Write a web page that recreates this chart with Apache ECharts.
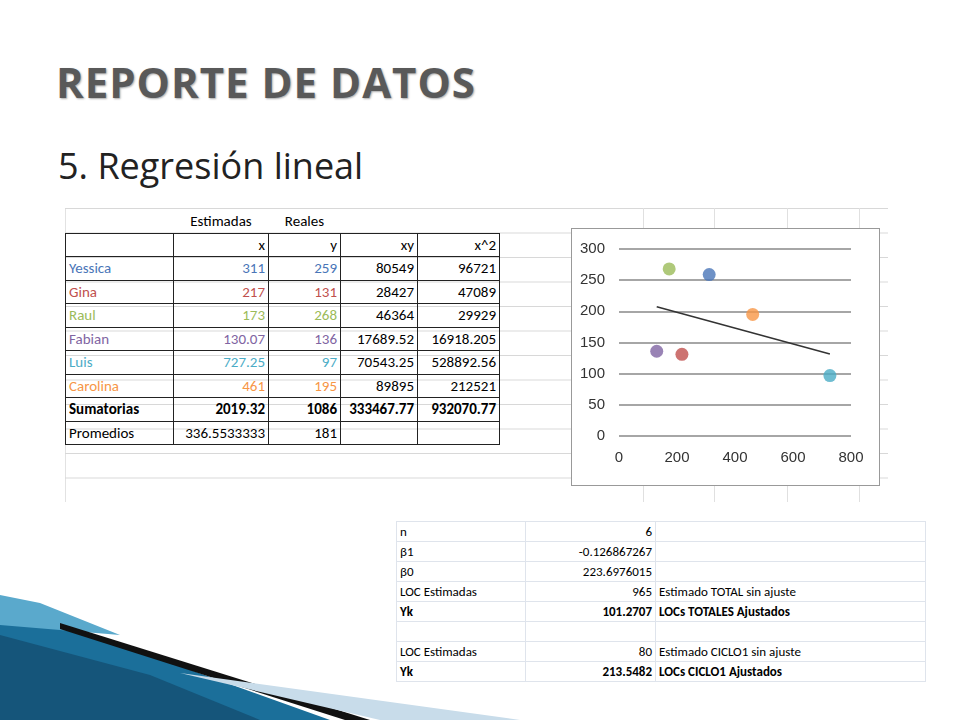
<!DOCTYPE html>
<html><head><meta charset="utf-8">
<script src="https://cdn.jsdelivr.net/npm/echarts@6/dist/echarts.min.js"></script>
<style>
body{margin:0;width:960px;height:720px;position:relative;background:#fff;font-family:Carlito,Calibri,"Liberation Sans",sans-serif;overflow:hidden}
#t1{position:absolute;left:56px;top:53px;font:bold 42px "Open Sans","DejaVu Sans",sans-serif;color:#595959;letter-spacing:1px;text-shadow:1px 1px 2px #aaa}
#t2{position:absolute;left:58px;top:141px;font:36px "Open Sans","DejaVu Sans",sans-serif;color:#222}
#sheet{position:absolute;left:65px;top:208px;width:823px;height:294px;
 background-image:linear-gradient(#d8d8d8 1px,transparent 1px),linear-gradient(90deg,#e2e2e2 1px,transparent 1px);background-size:100% 24.5px,100% 100%}
.vl{position:absolute;top:208px;height:294px;width:1px;background:#e0e0e0}
table{border-collapse:collapse;position:absolute}
#tb td{height:22.5px;padding:0 3px;font-size:15px;text-align:right;white-space:nowrap}
#tb tr.b td{border:1.5px solid #222}
#chart{position:absolute;left:571px;top:228px;width:307px;height:256px;background:#fff;border:1px solid #999}
#t3{left:396px;top:521px;background:#fff}
#t3 td{height:19px;border:1px solid #dfe4ec;font-size:13px;padding:0 3px;white-space:nowrap}
</style></head><body>
<svg style="position:absolute;left:0;top:595px" width="560" height="125">
<polygon points="0,12 60,28 330,125 0,125" fill="#1b6f9a"/>
<polygon points="0,0 40,8 120,40 0,30" fill="#5aa9cc"/>
<polygon points="0,40 150,80 260,125 0,125" fill="#15557a"/>
<polygon points="60,28 370,125 345,125 60,34" fill="#111"/>
<polygon points="180,78 520,125 380,125" fill="#c8dcea"/>
</svg>
<div id="sheet"></div>
<div class="vl" style="left:643px"></div><div class="vl" style="left:714px"></div><div class="vl" style="left:787px"></div><div class="vl" style="left:859px"></div>
<div id="t1">REPORTE DE DATOS</div>
<div id="t2">5. Regresión lineal</div>
<div id="tbw"></div>
<div id="chart"></div>
<div id="t3w"></div>
<script>
const names=["Yessica","Gina","Raul","Fabian","Luis","Carolina"];
const colors=["#4a76b8","#c0504d","#9bbb59","#8064a2","#4bacc6","#f79646"];
const xs=[311,217,173,130.07,727.25,461];
const ys=[259,131,268,136,97,195];
const xyS=["80549","28427","46364","17689.52","70543.25","89895"];
const x2S=["96721","47089","29929","16918.205","528892.56","212521"];
const xsS=["311","217","173","130.07","727.25","461"];
const b1=-0.126867267, b0=223.6976015;
const fitX=[130.07,727.25];
const yTicks=[0,50,100,150,200,250,300];

let h='<table id="tb" style="left:65px;top:210px"><colgroup><col style="width:108px"><col style="width:95px"><col style="width:72px"><col style="width:77px"><col style="width:82px"></colgroup>';
h+='<tr><td></td><td style="text-align:center">Estimadas</td><td style="text-align:center">Reales</td><td></td><td></td></tr>';
h+='<tr class="b"><td></td><td>x</td><td>y</td><td>xy</td><td>x^2</td></tr>';
names.forEach((n,i)=>{h+=`<tr class="b"><td style="text-align:left;color:${colors[i]}">${n}</td><td style="color:${colors[i]}">${xsS[i]}</td><td style="color:${colors[i]}">${ys[i]}</td><td>${xyS[i]}</td><td>${x2S[i]}</td></tr>`;});
h+='<tr class="b" style="font-weight:bold"><td style="text-align:left;font-weight:bold">Sumatorias</td><td style="font-weight:bold">2019.32</td><td style="font-weight:bold">1086</td><td style="font-weight:bold">333467.77</td><td style="font-weight:bold">932070.77</td></tr>';
h+='<tr class="b"><td style="text-align:left">Promedios</td><td>336.5533333</td><td>181</td><td></td><td></td></tr></table>';
document.getElementById('tbw').innerHTML=h;

const rows=[["n","6","",0],["β1","-0.126867267","",0],["β0","223.6976015","",0],["LOC Estimadas","965","Estimado TOTAL sin ajuste",0],["Yk","101.2707","LOCs TOTALES Ajustados",1],["","","",0],["LOC Estimadas","80","Estimado CICLO1 sin ajuste",0],["Yk","213.5482","LOCs CICLO1 Ajustados",1]];
let g='<table id="t3"><colgroup><col style="width:129px"><col style="width:130px"><col style="width:270px"></colgroup>';
rows.forEach(r=>{const fw=r[3]?'font-weight:bold;':'';g+=`<tr><td style="${fw}">${r[0]}</td><td style="${fw}text-align:right">${r[1]}</td><td style="${fw}">${r[2]}</td></tr>`;});
g+='</table>';
document.getElementById('t3w').innerHTML=g;

const c=echarts.init(document.getElementById('chart'));
c.setOption({animation:false,
grid:{left:47,right:28,top:20,bottom:49},
xAxis:{type:'value',min:0,max:800,interval:200,splitLine:{show:false},axisLine:{show:false},axisTick:{show:false},axisLabel:{fontSize:15,color:'#333',margin:14}},
yAxis:{type:'value',min:0,max:300,interval:50,splitLine:{lineStyle:{color:'#888',width:1.5}},axisLine:{show:false},axisTick:{show:false},axisLabel:{fontSize:15,color:'#333',margin:14}},
series:[{type:'scatter',symbolSize:13,data:xs.map((x,i)=>({value:[x,ys[i]],itemStyle:{color:colors[i]}}))},
{type:'line',symbol:'none',lineStyle:{color:'#333',width:1.5},data:fitX.map(x=>[x,b0+b1*x])}]});
</script></body></html>
